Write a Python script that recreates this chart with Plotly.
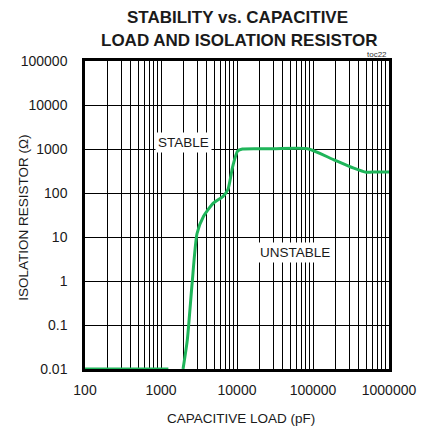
import math
import plotly.graph_objects as go

# Data
cap_pf = [100, 1250, None, 1950, 2220, 2570, 2980, 3630, 4880, 6550, 7600, 8800, 10200, 11800,
          30000, 85000, 186000, 337000, 500000, 600000, 1000000]
r_iso = [0.01, 0.01, None, 0.01, 0.046, 0.9, 12, 29.5, 59, 84, 120, 407, 900, 1000,
         1010, 1010, 575, 372, 295, 300, 300]

x_major = [100, 1000, 10000, 100000, 1000000]
y_major = [0.01, 0.1, 1, 10, 100, 1000, 10000, 100000]
y_labels = ["0.01", "0.1", "1", "10", "100", "1000", "10000", "100000"]

x_tickvals = []
x_ticktext = []
for d in range(2, 6):
    for k in range(1, 10):
        v = k * 10 ** d
        x_tickvals.append(v)
        x_ticktext.append(str(v) if k == 1 else "")
x_tickvals.append(1000000)
x_ticktext.append("1000000")

FONT = "Liberation Sans, Arial, sans-serif"
GREEN = "#1fb55a"

fig = go.Figure()
fig.add_trace(go.Scatter(
    x=cap_pf, y=r_iso, mode="lines",
    line=dict(color=GREEN, width=3, shape="spline", smoothing=0.6),
    connectgaps=False, hoverinfo="skip", showlegend=False,
))

fig.update_layout(
    width=428, height=429,
    margin=dict(l=85, r=31, t=61, b=60),
    paper_bgcolor="white", plot_bgcolor="white",
    font=dict(family=FONT, color="#1a1a1a", size=14),
    xaxis=dict(
        type="log", range=[2, 6],
        tickvals=x_tickvals, ticktext=x_ticktext,
        showgrid=True, gridcolor="#000", gridwidth=1,
        showline=True, linecolor="#000", linewidth=2.5, mirror=True,
        ticks="", zeroline=False, layer="below traces",
        tickfont=dict(size=14), ticklabelstandoff=6,
    ),
    yaxis=dict(
        type="log", range=[-2, 5],
        tickvals=y_major, ticktext=y_labels,
        showgrid=True, gridcolor="#000", gridwidth=1,
        showline=True, linecolor="#000", linewidth=2.5, mirror=True,
        ticks="", zeroline=False, layer="below traces",
        tickfont=dict(size=14), ticklabelstandoff=12,
    ),
)

ann = [
    dict(text="<b>STABILITY vs. CAPACITIVE</b>", x=0.503, y=1.1412, font=dict(size=17)),
    dict(text="<b>LOAD AND ISOLATION RESISTOR</b>", x=0.508, y=1.0666, font=dict(size=17)),
    dict(text="toc22", x=1.0, y=1.0195, xanchor="right", font=dict(size=8, color="#333")),
    dict(text="CAPACITIVE LOAD (pF)", x=0.514, y=-0.162, font=dict(size=13.5)),
    dict(text="ISOLATION RESISTOR (Ω)", x=-0.205, y=0.49, textangle=-90, font=dict(size=13.5)),
]
for a in ann:
    a.setdefault("xanchor", "center")
    fig.add_annotation(xref="paper", yref="paper", yanchor="middle", showarrow=False, **a)

fig.add_annotation(x=math.log10(1972), y=math.log10(1400), xref="x", yref="y",
                   text="STABLE", showarrow=False, bgcolor="white", borderpad=2,
                   font=dict(size=13.5))
fig.add_annotation(x=math.log10(58000), y=math.log10(4.4), xref="x", yref="y",
                   text="UNSTABLE", showarrow=False, bgcolor="white", borderpad=2,
                   font=dict(size=13.5))

fig.write_html("out.html", config={"displayModeBar": False},
               post_script="document.body.style.margin='0';")
